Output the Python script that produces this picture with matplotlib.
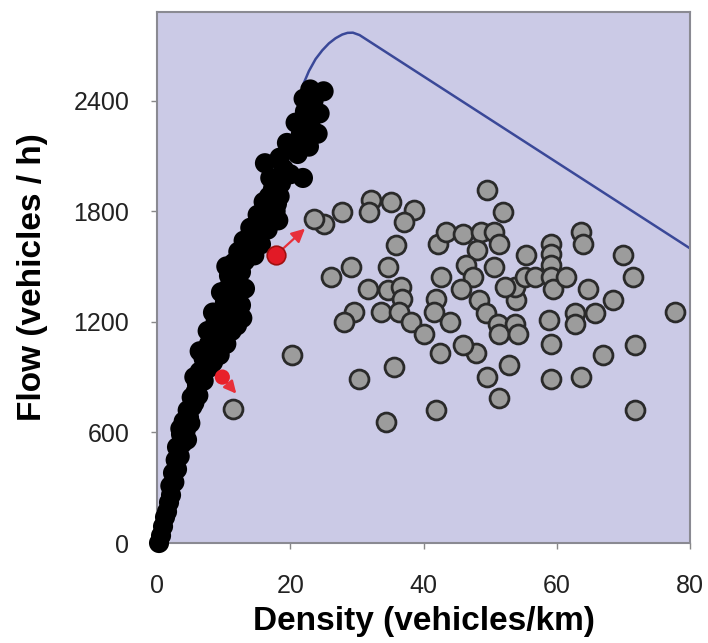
import matplotlib
matplotlib.use('Agg')
import matplotlib.pyplot as plt

# black points (free flow branch)
black_d = [0.3, 0.6, 0.9, 1.2, 1.5, 1.8, 2.1, 2.0, 2.6, 2.4, 3.0, 2.8, 3.4, 3.0, 3.8, 3.6, 4.3, 4.0,
           4.8, 4.6, 5.3, 5.2, 5.8, 6.0, 6.6, 6.4, 7.2, 7.0, 7.9, 8.4, 7.8, 9.2, 8.6, 9.8, 8.8, 10.2,
           9.6, 11.0, 12.8, 10.2, 11.6, 12.4, 10.6, 11.9, 10.8, 12.6, 11.5, 13.2, 12.2, 14.0, 13.0,
           14.7, 14.0, 15.6, 15.1, 16.8, 18.2, 16.0, 18.0, 17.4, 17.0, 18.6, 16.2, 19.0, 21.9, 19.5,
           21.1, 20.8, 23.0, 24.1, 22.0, 23.5, 25.0,
           3.5, 4.5, 5.0, 5.6, 6.2, 7.0, 5.6, 7.8, 6.4, 8.4, 9.4, 7.6, 10.4, 11.2, 12.0, 8.4, 12.6,
           9.6, 11.0, 13.2, 12.0, 10.4, 12.8, 14.6, 13.6, 15.6, 16.6, 15.0, 17.8, 16.8, 18.4, 20.0,
           18.4, 20.4, 22.8, 21.6, 22.2, 24.4, 23.0]
black_f = [0, 40, 90, 140, 170, 220, 260, 310, 330, 380, 400, 450, 470, 520, 540, 590, 610, 660,
           680, 720, 740, 790, 820, 860, 880, 930, 950, 1000, 1010, 1060, 1080, 1090, 1130, 1150, 1200, 1200,
           1260, 1250, 1220, 1310, 1320, 1360, 1380, 1420, 1450, 1470, 1520, 1530, 1580, 1590, 1640,
           1660, 1710, 1700, 1780, 1760, 1750, 1850, 1840, 1920, 1980, 1950, 2060, 2030, 1980, 2170,
           2110, 2280, 2280, 2220, 2410, 2400, 2450,
           620, 560, 650, 760, 800, 880, 900, 950, 1040, 980, 1020, 1150, 1080, 1150, 1180, 1250, 1290,
           1360, 1390, 1380, 1480, 1500, 1550, 1560, 1620, 1620, 1700, 1720, 1800, 1880, 1880, 2000,
           2090, 2150, 2150, 2220, 2340, 2330, 2460]

# grey points (congested branch)
grey_d = [49.6, 51.9, 27.8, 32.1, 31.8, 35.1, 38.6, 37.1, 25.0, 23.5, 35.8, 42.1, 43.4, 45.9, 48.6,
          50.6, 51.4, 48.1, 55.4, 50.6, 46.4, 42.6, 47.4, 45.6, 34.6, 29.1, 26.1, 31.6, 34.6, 36.6,
          36.8, 33.6, 36.3, 38.1, 29.6, 28.1, 40.1, 41.9, 41.6, 43.9, 48.4, 49.4, 51.2, 51.4, 53.7,
          54.2, 53.9, 53.7, 52.2, 55.2, 56.7, 59.2, 59.2, 59.2, 59.2, 59.4, 61.4, 63.7, 64.0, 64.7,
          68.5, 70.0, 71.5, 65.7, 62.7, 62.7, 58.9, 59.2, 77.8, 71.7, 67.0, 59.2, 63.7, 71.7, 52.9,
          49.6, 51.4, 47.9, 45.9, 42.4, 41.9, 35.6, 30.3, 34.3, 20.3, 11.4]
grey_f = [1913, 1795, 1795, 1858, 1795, 1849, 1804, 1741, 1732, 1759, 1615, 1624, 1687, 1678, 1687,
          1687, 1624, 1588, 1560, 1497, 1506, 1443, 1443, 1380, 1497, 1497, 1443, 1380, 1371, 1389,
          1326, 1253, 1253, 1199, 1253, 1199, 1136, 1326, 1253, 1199, 1317, 1245, 1190, 1136, 1190,
          1136, 1317, 1389, 1389, 1443, 1443, 1624, 1570, 1506, 1443, 1380, 1443, 1687, 1624, 1380,
          1317, 1560, 1443, 1245, 1245, 1190, 1208, 1082, 1253, 1073, 1019, 892, 901, 721, 964,
          901, 784, 1028, 1073, 1028, 721, 955, 892, 657, 1019, 726]

# fitted curve
curve_d = [22.0, 22.8, 23.8, 24.8, 25.8, 26.8, 27.8, 28.6, 29.4, 30.4, 80.0]
curve_f = [2492, 2560, 2625, 2672, 2710, 2738, 2758, 2767, 2768, 2755, 1598]

# red transitions: (start density, start flow, end density, end flow)
red_big = (17.8, 1560, 22.2, 1705)
red_small = (9.8, 900, 11.9, 810)

fig = plt.figure(figsize=(7.08, 6.43), dpi=100)
ax = fig.add_axes([0.2218, 0.1555, 0.7528, 0.8258])
ax.set_facecolor('#cbcae6')

ax.plot(curve_d, curve_f, color='#3a4898', lw=1.8, zorder=2)
ax.scatter(black_d, black_f, s=210, c='black', edgecolors='none', zorder=3, clip_on=False)
ax.scatter(grey_d, grey_f, s=185, c='#9c9c9c', edgecolors='#2a2a2a', linewidths=2.0, zorder=4)

ax.annotate('', xy=red_big[2:], xytext=red_big[:2],
            arrowprops=dict(arrowstyle='-|>', color='#e8303a', lw=1.6, mutation_scale=20,
                            shrinkA=6, shrinkB=0), zorder=5)
ax.scatter([red_big[0]], [red_big[1]], s=180, c='#e21a26', edgecolors='#a01010', linewidths=1.2, zorder=6)
ax.annotate('', xy=red_small[2:], xytext=red_small[:2],
            arrowprops=dict(arrowstyle='-|>', color='#e8303a', lw=1.8, mutation_scale=18,
                            shrinkA=3, shrinkB=0), zorder=5)
ax.scatter([red_small[0]], [red_small[1]], s=120, c='#e8202a', edgecolors='none', zorder=6)

ax.set_xlim(0, 80)
ax.set_ylim(0, 2880)
ax.set_xticks([0, 20, 40, 60, 80])
ax.set_yticks([0, 600, 1200, 1800, 2400])
ax.tick_params(labelsize=18, colors='#888888', labelcolor='#222222', length=4, width=1)
ax.tick_params(axis='x', pad=18)
ax.tick_params(axis='y', pad=16)
for lab in ax.get_xticklabels() + ax.get_yticklabels():
    lab.set_family('Liberation Sans')
for s in ax.spines.values():
    s.set_color('#8a8a92')
    s.set_linewidth(1.5)

ax.set_xlabel('Density (vehicles/km)', fontsize=24, fontweight='bold', family='Liberation Sans', labelpad=6)
ax.set_ylabel('Flow (vehicles / h)', fontsize=24, fontweight='bold', family='Liberation Sans', labelpad=18)

fig.savefig('out.png', dpi=100)
